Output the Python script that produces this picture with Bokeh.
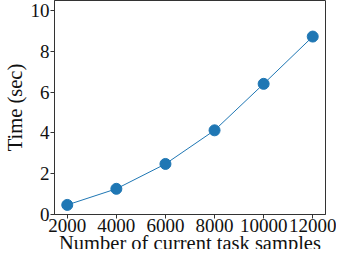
from bokeh.plotting import figure
from bokeh.embed import file_html
from bokeh.resources import INLINE
from bokeh.models import Range1d, FixedTicker, Title

samples = [2000, 4000, 6000, 8000, 10000, 12000]
times = [0.47, 1.26, 2.48, 4.13, 6.41, 8.73]
x_ticks = [2000, 4000, 6000, 8000, 10000, 12000]
y_ticks = [0, 2, 4, 6, 8, 10]
x_label = "Number of current task samples"
y_label = "Time (sec)"

FONT = "Liberation Serif"
COLOR = "#1f77b4"

p = figure(width=336, height=249, output_backend="svg", toolbar_location=None,
           x_range=Range1d(1480, 12520), y_range=Range1d(0, 10.5),
           min_border_left=45, min_border_right=11, min_border_top=0, min_border_bottom=0)

p.line(samples, times, line_color=COLOR, line_width=1)
p.scatter(samples, times, size=11, fill_color=COLOR, line_color=COLOR)

p.xgrid.visible = False
p.ygrid.visible = False
p.outline_line_color = "#333333"
p.outline_line_width = 1

p.xaxis.ticker = FixedTicker(ticks=x_ticks)
p.yaxis.ticker = FixedTicker(ticks=y_ticks)
p.yaxis.axis_label = y_label

for ax in (p.xaxis, p.yaxis):
    ax.axis_label_text_font = FONT
    ax.axis_label_text_font_style = "normal"
    ax.axis_label_text_font_size = "20.5px"
    ax.axis_label_text_color = "#111111"
    ax.major_label_text_font = FONT
    ax.major_label_text_font_size = "19px"
    ax.major_label_text_color = "#111111"
    ax.minor_tick_line_color = None
    ax.major_tick_out = 4
    ax.major_tick_in = 0
    ax.major_tick_line_color = "#333333"
    ax.axis_line_color = "#333333"

p.xaxis.major_label_standoff = 0
p.xaxis.axis_label_standoff = 0
p.yaxis.major_label_standoff = 1
p.yaxis.axis_label_standoff = 2

p.add_layout(Title(text=x_label, align="center", vertical_align="bottom",
                   text_font=FONT, text_font_size="20.5px", text_font_style="normal",
                   text_color="#111111", standoff=-9, offset=0), "below")

open("out.html", "w").write(file_html(p, INLINE))
